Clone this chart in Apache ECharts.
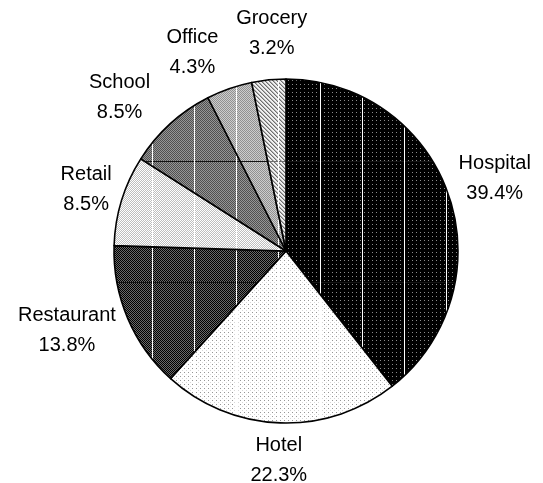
<!DOCTYPE html>
<html>
<head>
<meta charset="utf-8">
<script src="https://cdn.jsdelivr.net/npm/echarts@6/dist/echarts.min.js"></script>
<style>
html,body{margin:0;padding:0;background:#fff;}
#chart{width:543px;height:483px;}
</style>
</head>
<body>
<div id="chart"></div>
<script>
// ---- data ----
const categories = ['Hospital', 'Hotel', 'Restaurant', 'Retail', 'School', 'Office', 'Grocery'];
const shares = [39.4, 22.3, 13.8, 8.5, 8.5, 4.3, 3.2];

// ---- style ----
const fills = ['hospital', 'hotel', 'restaurant', 'retail', 'school', 'office', 'grocery'];
const labelNudgeDeg = [0, 0, 3, 0, -5, -6, 2];

function makePattern(kind) {
  const W = 84, H = 1452;
  const c = document.createElement('canvas');
  c.width = W; c.height = H;
  const ctx = c.getContext('2d');
  const img = ctx.createImageData(W, H);
  const d = img.data;
  for (let y = 0; y < H; y++) {
    for (let x = 0; x < W; x++) {
      let g = 255;
      const chk = (x + y) % 2 === 0;
      switch (kind) {
        case 'hospital': g = (x % 4 === 0 && y % 4 === 0) ? 140 : 0; break;
        case 'hotel': g = (x % 4 === 0 && y % 4 === 0) ? 150 : ((x % 4 === 2 && y % 4 === 2) ? 215 : 255); break;
        case 'restaurant': g = chk ? 0 : 105; break;
        case 'retail': g = chk ? 255 : 190; break;
        case 'school': g = chk ? 80 : 150; break;
        case 'office': g = chk ? 145 : 205; break;
        case 'grocery': { const m = ((x - y) % 4 + 4) % 4; g = m === 0 ? 110 : (m === 1 ? 180 : 240); break; }
      }
      const hasH = ['hospital', 'restaurant', 'school', 'office', 'grocery'].indexOf(kind) >= 0;
      if (hasH && y % 121 === 40) g = kind === 'grocery' ? 110 : 20;
      if (x % 42 === 26) g = 255;
      const i = (y * W + x) * 4;
      d[i] = d[i + 1] = d[i + 2] = g; d[i + 3] = 255;
    }
  }
  ctx.putImageData(img, 0, 0);
  return { image: c, repeat: 'repeat' };
}

const CENTER = [286, 251];
const RADIUS = 172;
const total = shares.reduce((a, b) => a + b, 0);
const midAngles = [];
(function () {
  let acc = 0;
  for (let i = 0; i < shares.length; i++) {
    midAngles.push(((acc + shares[i] / 2) / total) * Math.PI * 2);
    acc += shares[i];
  }
})();

const chart = echarts.init(document.getElementById('chart'), null, { renderer: 'canvas' });
chart.setOption({
  animation: false,
  backgroundColor: '#fff',
  series: [{
    type: 'pie',
    center: CENTER,
    radius: RADIUS,
    startAngle: 90,
    clockwise: true,
    avoidLabelOverlap: false,
    silent: true,
    emphasis: { disabled: true },
    itemStyle: { borderColor: '#000', borderWidth: 1.6 },
    label: {
      show: true,
      position: 'outside',
      fontFamily: 'Liberation Sans, Arial, sans-serif',
      fontSize: 20,
      lineHeight: 30,
      color: '#000',
      align: 'center',
      formatter: p => p.name + '\n' + shares[p.dataIndex].toFixed(1) + '%'
    },
    labelLine: { show: false },
    labelLayout: function (p) {
      const a0 = midAngles[p.dataIndex];
      const dx0 = Math.sin(a0), dy0 = -Math.cos(a0);
      const w = p.labelRect.width / 2, h = p.labelRect.height / 2;
      const ext = Math.min(Math.abs(dx0) > 1e-6 ? w / Math.abs(dx0) : 1e9, Math.abs(dy0) > 1e-6 ? h / Math.abs(dy0) : 1e9);
      const gap = 8 + 8 * Math.max(0, -dy0);
      const dist = RADIUS + gap + ext;
      const a = a0 + labelNudgeDeg[p.dataIndex] * Math.PI / 180;
      return { x: CENTER[0] + Math.sin(a) * dist, y: CENTER[1] - Math.cos(a) * dist, align: 'center', verticalAlign: 'middle' };
    },
    data: categories.map((n, i) => ({ name: n, value: shares[i], itemStyle: { color: makePattern(fills[i]) } }))
  }]
});
</script>
</body>
</html>
